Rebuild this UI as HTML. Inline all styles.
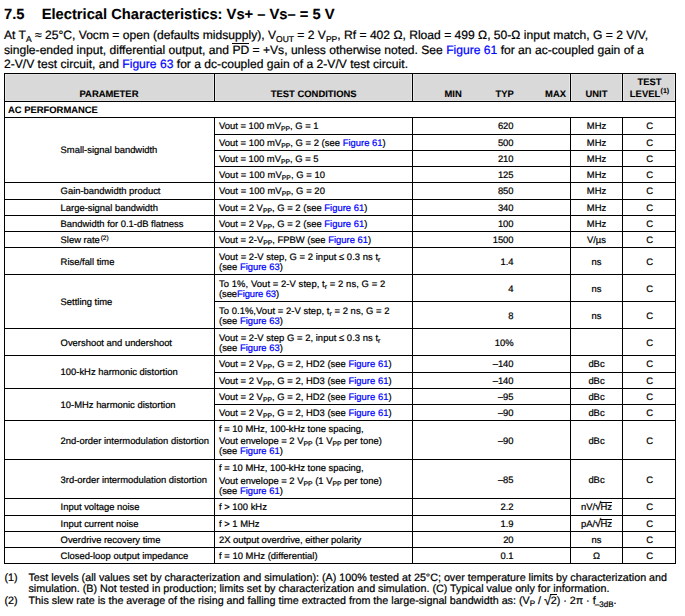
<!DOCTYPE html>
<html lang="en">
<head>
<meta charset="utf-8">
<title>7.5 Electrical Characteristics: Vs+ – Vs– = 5 V</title>
<style>
html,body{margin:0;padding:0;background:#fff}
body{width:685px;height:616px;position:relative;overflow:hidden;font-family:"Liberation Sans",Arial,sans-serif;color:#000;-webkit-text-stroke:0.22px;text-rendering:geometricPrecision}
a{color:#0000ff;text-decoration:none}
.ln{position:absolute;background:#000}
.hd{position:absolute;background:#d9d9d9;box-shadow:inset 1px 0 0 #e8e8e8,inset -1px 0 0 #e8e8e8,inset 0 1px 0 #e2e2e2,inset 0 -1px 0 #e2e2e2}
.t{position:absolute;font-size:9.42px;line-height:20px;height:20px;white-space:pre}
.b{font-weight:bold;-webkit-text-stroke:0.1px}
.t sub{font-size:6.8px;vertical-align:-1.6px;line-height:0}
.t sup{font-size:6.4px;vertical-align:3.1px;line-height:0;margin-left:0.9px}
.b sup{font-size:7px;vertical-align:3.6px;margin-left:0.4px}
.ov{position:relative}
.ov::before{content:"";position:absolute;left:-0.5px;right:0;top:1px;height:1px;background:#000}
.rad2{font-size:11.5px;line-height:0;margin:0 -0.6px 0 -0.4px}
h1{position:absolute;margin:0;left:4px;-webkit-text-stroke:0.1px;top:4.5px;font-size:14.73px;line-height:20px;font-weight:bold;white-space:pre}
h1 span{position:absolute;left:37.7px;top:0}
.p{position:absolute;left:4px;font-size:12.1px;line-height:14px;white-space:pre;margin:0}
.p sub{font-size:8.5px;vertical-align:-2.5px;line-height:0}
.f{position:absolute;font-size:10.74px;line-height:12px;white-space:pre;margin:0}
.f sub{font-size:8px;vertical-align:-2.4px;line-height:0}
.f sub.lo{font-size:8px;vertical-align:-2.9px;margin-left:-0.8px}
.rad{font-size:13px;line-height:0;vertical-align:-0.5px;margin-right:-0.5px}
.vin{position:relative}
.vin::before{content:"";position:absolute;left:-1px;right:0;top:-1.5px;height:1px;background:#000}
.pd{position:relative}
.pd::before{content:"";position:absolute;left:0;right:0;top:0;height:1px;background:#000}
</style>
</head>
<body>
<h1>7.5 <span>Electrical Characteristics: Vs+ – Vs– = 5 V</span></h1>
<p class="p" style="top:28px">At T<sub>A</sub> ≈ 25°C, Vocm = open (defaults midsupply), V<sub>OUT</sub> = 2 V<sub>PP</sub>, Rf = 402 Ω, Rload = 499 Ω, 50-Ω input match, G = 2 V/V,</p>
<p class="p" style="top:43px">single-ended input, differential output, and <span class="pd">PD</span> = +Vs, unless otherwise noted. See <a>Figure 61</a> for an ac-coupled gain of a</p>
<p class="p" style="top:57px">2-V/V test circuit, and <a>Figure 63</a> for a dc-coupled gain of a 2-V/V test circuit.</p>
<div class="hd" style="left:5px;top:74px;width:209px;height:27px"></div>
<div class="hd" style="left:215px;top:74px;width:197px;height:27px"></div>
<div class="hd" style="left:413px;top:74px;width:157px;height:27px"></div>
<div class="hd" style="left:571px;top:74px;width:51px;height:27px"></div>
<div class="hd" style="left:623px;top:74px;width:52px;height:27px"></div>
<div class="ln" style="left:4px;top:73px;width:672px;height:1px"></div>
<div class="ln" style="left:4px;top:563px;width:672px;height:1px"></div>
<div class="ln" style="left:4px;top:73px;width:1px;height:491px"></div>
<div class="ln" style="left:675px;top:73px;width:1px;height:491px"></div>
<div class="ln" style="left:4px;top:101px;width:672px;height:1px"></div>
<div class="ln" style="left:4px;top:117px;width:672px;height:1px"></div>
<div class="ln" style="left:214px;top:73px;width:1px;height:28px"></div>
<div class="ln" style="left:214px;top:117px;width:1px;height:446px"></div>
<div class="ln" style="left:412px;top:73px;width:1px;height:28px"></div>
<div class="ln" style="left:412px;top:117px;width:1px;height:446px"></div>
<div class="ln" style="left:570px;top:73px;width:1px;height:28px"></div>
<div class="ln" style="left:570px;top:117px;width:1px;height:446px"></div>
<div class="ln" style="left:622px;top:73px;width:1px;height:28px"></div>
<div class="ln" style="left:622px;top:117px;width:1px;height:446px"></div>
<div class="ln" style="left:214px;top:134px;width:461px;height:1px"></div>
<div class="ln" style="left:214px;top:150px;width:461px;height:1px"></div>
<div class="ln" style="left:214px;top:166px;width:461px;height:1px"></div>
<div class="ln" style="left:214px;top:182px;width:461px;height:1px"></div>
<div class="ln" style="left:214px;top:199px;width:461px;height:1px"></div>
<div class="ln" style="left:214px;top:215px;width:461px;height:1px"></div>
<div class="ln" style="left:214px;top:231px;width:461px;height:1px"></div>
<div class="ln" style="left:214px;top:247px;width:461px;height:1px"></div>
<div class="ln" style="left:214px;top:274px;width:461px;height:1px"></div>
<div class="ln" style="left:214px;top:301px;width:461px;height:1px"></div>
<div class="ln" style="left:214px;top:328px;width:461px;height:1px"></div>
<div class="ln" style="left:214px;top:355px;width:461px;height:1px"></div>
<div class="ln" style="left:214px;top:372px;width:461px;height:1px"></div>
<div class="ln" style="left:214px;top:388px;width:461px;height:1px"></div>
<div class="ln" style="left:214px;top:404px;width:461px;height:1px"></div>
<div class="ln" style="left:214px;top:420px;width:461px;height:1px"></div>
<div class="ln" style="left:214px;top:459px;width:461px;height:1px"></div>
<div class="ln" style="left:214px;top:498px;width:461px;height:1px"></div>
<div class="ln" style="left:214px;top:515px;width:461px;height:1px"></div>
<div class="ln" style="left:214px;top:531px;width:461px;height:1px"></div>
<div class="ln" style="left:214px;top:547px;width:461px;height:1px"></div>
<div class="ln" style="left:214px;top:563px;width:461px;height:1px"></div>
<div class="ln" style="left:4px;top:182px;width:210px;height:1px"></div>
<div class="ln" style="left:4px;top:199px;width:210px;height:1px"></div>
<div class="ln" style="left:4px;top:215px;width:210px;height:1px"></div>
<div class="ln" style="left:4px;top:231px;width:210px;height:1px"></div>
<div class="ln" style="left:4px;top:247px;width:210px;height:1px"></div>
<div class="ln" style="left:4px;top:274px;width:210px;height:1px"></div>
<div class="ln" style="left:4px;top:328px;width:210px;height:1px"></div>
<div class="ln" style="left:4px;top:355px;width:210px;height:1px"></div>
<div class="ln" style="left:4px;top:388px;width:210px;height:1px"></div>
<div class="ln" style="left:4px;top:420px;width:210px;height:1px"></div>
<div class="ln" style="left:4px;top:459px;width:210px;height:1px"></div>
<div class="ln" style="left:4px;top:498px;width:210px;height:1px"></div>
<div class="ln" style="left:4px;top:515px;width:210px;height:1px"></div>
<div class="ln" style="left:4px;top:531px;width:210px;height:1px"></div>
<div class="ln" style="left:4px;top:547px;width:210px;height:1px"></div>
<div class="ln" style="left:4px;top:563px;width:210px;height:1px"></div>
<div class="t b" style="left:-41px;width:300px;text-align:center;top:84px;">PARAMETER</div>
<div class="t b" style="left:163.7px;width:300px;text-align:center;top:84px;">TEST CONDITIONS</div>
<div class="t b" style="left:161.7px;width:300px;text-align:right;top:84px;">MIN</div>
<div class="t b" style="left:213.89999999999998px;width:300px;text-align:right;top:84px;">TYP</div>
<div class="t b" style="left:266px;width:300px;text-align:right;top:84px;">MAX</div>
<div class="t b" style="left:446.5px;width:300px;text-align:center;top:84px;">UNIT</div>
<div class="t b" style="left:499.5px;width:300px;text-align:center;top:72px;">TEST</div>
<div class="t b" style="left:499.5px;width:300px;text-align:center;top:84px;">LEVEL<sup>(1)</sup></div>
<div class="t b" style="left:8px;top:100px;">AC PERFORMANCE</div>
<div class="t" style="left:219.0px;top:116px;">Vout = 100 mV<sub>PP</sub>, G = 1</div>
<div class="t" style="left:213.60000000000002px;width:300px;text-align:right;top:116px;">620</div>
<div class="t" style="left:446.5px;width:300px;text-align:center;top:116px;">MHz</div>
<div class="t" style="left:499.6px;width:300px;text-align:center;top:116px;">C</div>
<div class="t" style="left:219.0px;top:133px;letter-spacing:0.02px">Vout = 100 mV<sub>PP</sub>, G = 2 (see <a>Figure 61</a>)</div>
<div class="t" style="left:213.60000000000002px;width:300px;text-align:right;top:133px;">500</div>
<div class="t" style="left:446.5px;width:300px;text-align:center;top:133px;">MHz</div>
<div class="t" style="left:499.6px;width:300px;text-align:center;top:133px;">C</div>
<div class="t" style="left:219.0px;top:149px;">Vout = 100 mV<sub>PP</sub>, G = 5</div>
<div class="t" style="left:213.60000000000002px;width:300px;text-align:right;top:149px;">210</div>
<div class="t" style="left:446.5px;width:300px;text-align:center;top:149px;">MHz</div>
<div class="t" style="left:499.6px;width:300px;text-align:center;top:149px;">C</div>
<div class="t" style="left:219.0px;top:165px;letter-spacing:0.06px">Vout = 100 mV<sub>PP</sub>, G = 10</div>
<div class="t" style="left:213.60000000000002px;width:300px;text-align:right;top:165px;">125</div>
<div class="t" style="left:446.5px;width:300px;text-align:center;top:165px;">MHz</div>
<div class="t" style="left:499.6px;width:300px;text-align:center;top:165px;">C</div>
<div class="t" style="left:219.0px;top:181px;letter-spacing:0.05px">Vout = 100 mV<sub>PP</sub>, G = 20</div>
<div class="t" style="left:213.60000000000002px;width:300px;text-align:right;top:181px;">850</div>
<div class="t" style="left:446.5px;width:300px;text-align:center;top:181px;">MHz</div>
<div class="t" style="left:499.6px;width:300px;text-align:center;top:181px;">C</div>
<div class="t" style="left:219.0px;top:198px;letter-spacing:0.02px">Vout = 2 V<sub>PP</sub>, G = 2 (see <a>Figure 61</a>)</div>
<div class="t" style="left:213.60000000000002px;width:300px;text-align:right;top:198px;">340</div>
<div class="t" style="left:446.5px;width:300px;text-align:center;top:198px;">MHz</div>
<div class="t" style="left:499.6px;width:300px;text-align:center;top:198px;">C</div>
<div class="t" style="left:219.0px;top:214px;letter-spacing:0.02px">Vout = 2 V<sub>PP</sub>, G = 2 (see <a>Figure 61</a>)</div>
<div class="t" style="left:213.60000000000002px;width:300px;text-align:right;top:214px;">100</div>
<div class="t" style="left:446.5px;width:300px;text-align:center;top:214px;">MHz</div>
<div class="t" style="left:499.6px;width:300px;text-align:center;top:214px;">C</div>
<div class="t" style="left:219.0px;top:230px;">Vout = 2-V<sub>PP</sub>, FPBW (see <a>Figure 61</a>)</div>
<div class="t" style="left:213.60000000000002px;width:300px;text-align:right;top:230px;">1500</div>
<div class="t" style="left:446.5px;width:300px;text-align:center;top:230px;">V/µs</div>
<div class="t" style="left:499.6px;width:300px;text-align:center;top:230px;">C</div>
<div class="t" style="left:219.0px;top:247px;letter-spacing:0.045px">Vout = 2-V step, G = 2 input ≤ 0.3 ns t<sub>r</sub></div>
<div class="t" style="left:219.0px;top:257px;">(see <a>Figure 63</a>)</div>
<div class="t" style="left:213.60000000000002px;width:300px;text-align:right;top:252px;">1.4</div>
<div class="t" style="left:446.5px;width:300px;text-align:center;top:252px;">ns</div>
<div class="t" style="left:499.6px;width:300px;text-align:center;top:252px;">C</div>
<div class="t" style="left:219.0px;top:274px;letter-spacing:0.08px">To 1%, Vout = 2-V step, t<sub>r</sub> = 2 ns, G = 2</div>
<div class="t" style="left:219.0px;top:284px;letter-spacing:-0.08px">(see<a>Figure 63</a>)</div>
<div class="t" style="left:213.60000000000002px;width:300px;text-align:right;top:279px;">4</div>
<div class="t" style="left:446.5px;width:300px;text-align:center;top:279px;">ns</div>
<div class="t" style="left:499.6px;width:300px;text-align:center;top:279px;">C</div>
<div class="t" style="left:219.0px;top:301px;letter-spacing:0.055px">To 0.1%,Vout = 2-V step, t<sub>r</sub> = 2 ns, G = 2</div>
<div class="t" style="left:219.0px;top:311px;">(see <a>Figure 63</a>)</div>
<div class="t" style="left:213.60000000000002px;width:300px;text-align:right;top:306px;">8</div>
<div class="t" style="left:446.5px;width:300px;text-align:center;top:306px;">ns</div>
<div class="t" style="left:499.6px;width:300px;text-align:center;top:306px;">C</div>
<div class="t" style="left:219.0px;top:328px;letter-spacing:0.045px">Vout = 2-V step G = 2, input ≤ 0.3 ns t<sub>r</sub></div>
<div class="t" style="left:219.0px;top:338px;">(see <a>Figure 63</a>)</div>
<div class="t" style="left:213.60000000000002px;width:300px;text-align:right;top:333px;">10%</div>
<div class="t" style="left:499.6px;width:300px;text-align:center;top:333px;">C</div>
<div class="t" style="left:219.0px;top:354px;letter-spacing:0.022px">Vout = 2 V<sub>PP</sub>, G = 2, HD2 (see <a>Figure 61</a>)</div>
<div class="t" style="left:213.60000000000002px;width:300px;text-align:right;top:354px;">–140</div>
<div class="t" style="left:446.5px;width:300px;text-align:center;top:354px;">dBc</div>
<div class="t" style="left:499.6px;width:300px;text-align:center;top:354px;">C</div>
<div class="t" style="left:219.0px;top:371px;letter-spacing:0.022px">Vout = 2 V<sub>PP</sub>, G = 2, HD3 (see <a>Figure 61</a>)</div>
<div class="t" style="left:213.60000000000002px;width:300px;text-align:right;top:371px;">–140</div>
<div class="t" style="left:446.5px;width:300px;text-align:center;top:371px;">dBc</div>
<div class="t" style="left:499.6px;width:300px;text-align:center;top:371px;">C</div>
<div class="t" style="left:219.0px;top:387px;letter-spacing:0.022px">Vout = 2 V<sub>PP</sub>, G = 2, HD2 (see <a>Figure 61</a>)</div>
<div class="t" style="left:213.60000000000002px;width:300px;text-align:right;top:387px;">–95</div>
<div class="t" style="left:446.5px;width:300px;text-align:center;top:387px;">dBc</div>
<div class="t" style="left:499.6px;width:300px;text-align:center;top:387px;">C</div>
<div class="t" style="left:219.0px;top:403px;letter-spacing:0.022px">Vout = 2 V<sub>PP</sub>, G = 2, HD3 (see <a>Figure 61</a>)</div>
<div class="t" style="left:213.60000000000002px;width:300px;text-align:right;top:403px;">–90</div>
<div class="t" style="left:446.5px;width:300px;text-align:center;top:403px;">dBc</div>
<div class="t" style="left:499.6px;width:300px;text-align:center;top:403px;">C</div>
<div class="t" style="left:219.0px;top:419px;">f = 10 MHz, 100-kHz tone spacing,</div>
<div class="t" style="left:219.0px;top:431px;">Vout envelope = 2 V<sub>PP</sub> (1 V<sub>PP</sub> per tone)</div>
<div class="t" style="left:219.0px;top:441px;">(see <a>Figure 61</a>)</div>
<div class="t" style="left:213.60000000000002px;width:300px;text-align:right;top:431px;">–90</div>
<div class="t" style="left:446.5px;width:300px;text-align:center;top:431px;">dBc</div>
<div class="t" style="left:499.6px;width:300px;text-align:center;top:431px;">C</div>
<div class="t" style="left:219.0px;top:458px;">f = 10 MHz, 100-kHz tone spacing,</div>
<div class="t" style="left:219.0px;top:471px;">Vout envelope = 2 V<sub>PP</sub> (1 V<sub>PP</sub> per tone)</div>
<div class="t" style="left:219.0px;top:481px;">(see <a>Figure 61</a>)</div>
<div class="t" style="left:213.60000000000002px;width:300px;text-align:right;top:470px;">–85</div>
<div class="t" style="left:446.5px;width:300px;text-align:center;top:470px;">dBc</div>
<div class="t" style="left:499.6px;width:300px;text-align:center;top:470px;">C</div>
<div class="t" style="left:219.0px;top:497px;">f &gt; 100 kHz</div>
<div class="t" style="left:213.60000000000002px;width:300px;text-align:right;top:497px;">2.2</div>
<div class="t" style="left:446.5px;width:300px;text-align:center;top:497px;">nV/<span class="rad2">√</span><span class="ov">Hz</span></div>
<div class="t" style="left:499.6px;width:300px;text-align:center;top:497px;">C</div>
<div class="t" style="left:219.0px;top:514px;">f &gt; 1 MHz</div>
<div class="t" style="left:213.60000000000002px;width:300px;text-align:right;top:514px;">1.9</div>
<div class="t" style="left:446.5px;width:300px;text-align:center;top:514px;">pA/<span class="rad2">√</span><span class="ov">Hz</span></div>
<div class="t" style="left:499.6px;width:300px;text-align:center;top:514px;">C</div>
<div class="t" style="left:219.0px;top:530px;letter-spacing:-0.03px">2X output overdrive, either polarity</div>
<div class="t" style="left:213.60000000000002px;width:300px;text-align:right;top:530px;">20</div>
<div class="t" style="left:446.5px;width:300px;text-align:center;top:530px;">ns</div>
<div class="t" style="left:499.6px;width:300px;text-align:center;top:530px;">C</div>
<div class="t" style="left:219.0px;top:546px;letter-spacing:0.03px">f = 10 MHz (differential)</div>
<div class="t" style="left:213.60000000000002px;width:300px;text-align:right;top:546px;">0.1</div>
<div class="t" style="left:446.5px;width:300px;text-align:center;top:546px;">Ω</div>
<div class="t" style="left:499.6px;width:300px;text-align:center;top:546px;">C</div>
<div class="t" style="left:60.6px;top:140px;">Small-signal bandwidth</div>
<div class="t" style="left:60.6px;top:181px;">Gain-bandwidth product</div>
<div class="t" style="left:60.6px;top:198px;">Large-signal bandwidth</div>
<div class="t" style="left:60.6px;top:214px;">Bandwidth for 0.1-dB flatness</div>
<div class="t" style="left:60.6px;top:230px;">Slew rate<sup>(2)</sup></div>
<div class="t" style="left:60.6px;top:252px;">Rise/fall time</div>
<div class="t" style="left:60.6px;top:292px;">Settling time</div>
<div class="t" style="left:60.6px;top:333px;">Overshoot and undershoot</div>
<div class="t" style="left:60.6px;top:362px;">100-kHz harmonic distortion</div>
<div class="t" style="left:60.6px;top:395px;">10-MHz harmonic distortion</div>
<div class="t" style="left:60.6px;top:431px;">2nd-order intermodulation distortion</div>
<div class="t" style="left:60.6px;top:470px;">3rd-order intermodulation distortion</div>
<div class="t" style="left:60.6px;top:497px;">Input voltage noise</div>
<div class="t" style="left:60.6px;top:514px;">Input current noise</div>
<div class="t" style="left:60.6px;top:530px;">Overdrive recovery time</div>
<div class="t" style="left:60.6px;top:546px;">Closed-loop output impedance</div>
<p class="f" style="left:4.5px;top:571.6px">(1)</p>
<p class="f" style="left:28.5px;top:571.6px">Test levels (all values set by characterization and simulation): (A) 100% tested at 25°C; over temperature limits by characterization and</p>
<p class="f" style="left:28.5px;top:583.4px">simulation. (B) Not tested in production; limits set by characterization and simulation. (C) Typical value only for information.</p>
<p class="f" style="left:4.5px;top:595.3px">(2)</p>
<p class="f" style="left:28.5px;top:595.3px">This slew rate is the average of the rising and falling time extracted from the large-signal bandwidth as: (V<sub>P</sub> / <span class="rad">√</span><span class="vin">2</span>) · 2π · f<sub class="lo">–3dB</sub>.</p>
</body>
</html>
